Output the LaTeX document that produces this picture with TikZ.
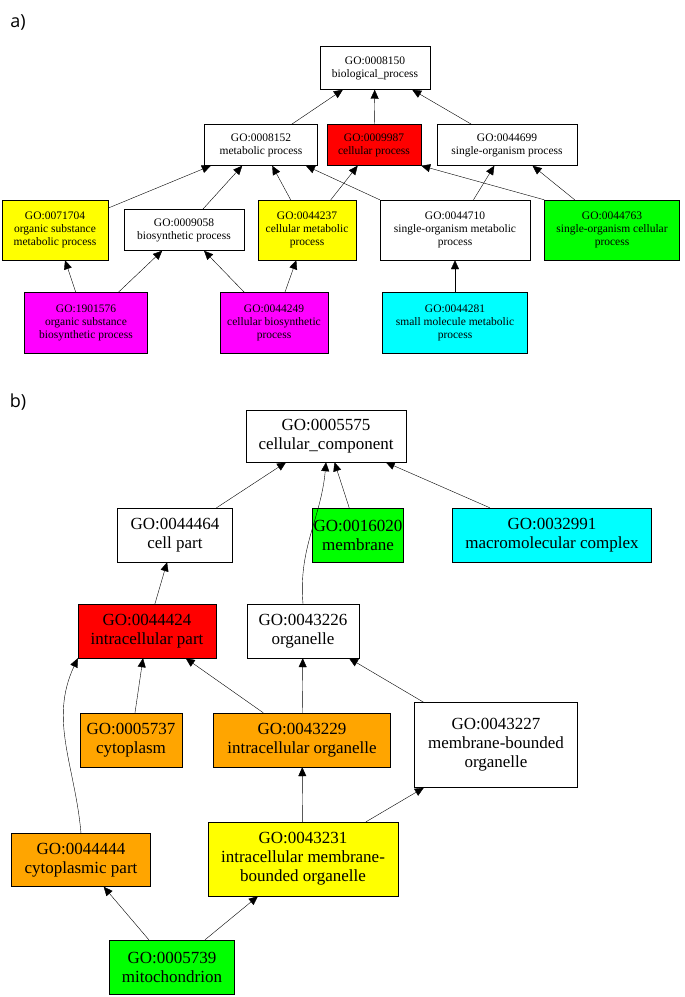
\documentclass[tikz,border=0pt]{standalone}
\usepackage{fontspec}
\setmainfont{Liberation Serif}
\newfontfamily\labfont{Open Sans}
\usetikzlibrary{positioning, arrows.meta, shapes}
\tikzset{
  term/.style={draw, align=center, inner sep=1pt},
  terma/.style={term, font=\fontsize{11.5}{13}\selectfont},
  termb/.style={term, font=\fontsize{17}{19}\selectfont},
  isa/.style={-{Triangle[length=9pt,width=8pt]}},
}
\definecolor{goyel}{RGB}{255,255,0}
\definecolor{gomag}{RGB}{255,0,255}
\definecolor{gocya}{RGB}{0,255,255}
\definecolor{gogrn}{RGB}{0,255,0}
\definecolor{gored}{RGB}{255,0,0}
\definecolor{goora}{RGB}{255,165,0}
\begin{document}
\begin{tikzpicture}[x=1pt, y=-1pt]
\useasboundingbox (0,0) rectangle (685,997);

%// part a
\node [font=\labfont\fontsize{18}{20}\selectfont] (laba) at (18,22) {a)};
\node [terma, minimum width=110pt, minimum height=43pt] (bp) at (375,68) {GO:0008150\\biological\_process};
\node [terma, minimum width=113pt, minimum height=41pt] (mp) at (261,145) {GO:0008152\\metabolic process};
\node [terma, fill=gored, minimum width=94pt, minimum height=41pt] (cp) at (374,145) {GO:0009987\\cellular process};
\node [terma, minimum width=140pt, minimum height=41pt] (sop) at (507,145) {GO:0044699\\single-organism process};
\node [terma, fill=goyel, minimum width=106pt, minimum height=60pt] (osm) at (55,230) {GO:0071704\\organic substance\\metabolic process};
\node [terma, minimum width=120pt, minimum height=41pt] (bsp) at (184,230) {GO:0009058\\biosynthetic process};
\node [terma, fill=goyel, minimum width=98pt, minimum height=60pt] (cmp) at (307,230) {GO:0044237\\cellular metabolic\\process};
\node [terma, minimum width=150pt, minimum height=60pt] (somp) at (455,230) {GO:0044710\\single-organism metabolic\\process};
\node [terma, fill=gogrn, minimum width=135pt, minimum height=60pt] (socp) at (612,230) {GO:0044763\\single-organism cellular\\process};
\node [terma, fill=gomag, minimum width=123pt, minimum height=61pt] (osb) at (86,323) {GO:1901576\\organic substance\\biosynthetic process};
\node [terma, fill=gomag, minimum width=108pt, minimum height=61pt] (cbp) at (274,323) {GO:0044249\\cellular biosynthetic\\process};
\node [terma, fill=gocya, minimum width=145pt, minimum height=61pt] (smm) at (455,323) {GO:0044281\\small molecule metabolic\\process};

\draw [isa] (mp) -- (bp);
\draw [isa] (cp) -- (bp);
\draw [isa] (sop) -- (bp);
\draw [isa] (osm) -- (mp);
\draw [isa] (bsp) -- (mp);
\draw [isa] (cmp) -- (mp);
\draw [isa] (cmp) -- (cp);
\draw [isa] (somp.north west) -- (mp);
\draw [isa] (somp) -- (sop);
\draw [isa] (socp) -- (sop);
\draw [isa] (socp.north west) -- (cp.south east);
\draw [isa] (osb) -- (osm);
\draw [isa] (osb) -- (bsp);
\draw [isa] (cbp) -- (bsp);
\draw [isa] (cbp) -- (cmp);
\draw [isa] (smm) -- (somp);

%// part b
\node [font=\labfont\fontsize{18}{20}\selectfont] (labb) at (18,402) {b)};
\node [termb, minimum width=160pt, minimum height=52pt] (cc) at (326,436) {GO:0005575\\cellular\_component};
\node [termb, minimum width=115pt, minimum height=54pt] (cpart) at (175,535) {GO:0044464\\cell part};
\node [termb, fill=gogrn, minimum width=84pt, minimum height=54pt] (mem) at (358,535) {GO:0016020\\membrane};
\node [termb, fill=gocya, minimum width=199pt, minimum height=54pt] (mmc) at (552,535) {GO:0032991\\macromolecular complex};
\node [termb, fill=gored, minimum width=138pt, minimum height=54pt] (icp) at (147,631) {GO:0044424\\intracellular part};
\node [termb, minimum width=112pt, minimum height=54pt] (org) at (303,631) {GO:0043226\\organelle};
\node [termb, fill=goora, minimum width=102pt, minimum height=54pt] (cyt) at (131,740) {GO:0005737\\cytoplasm};
\node [termb, fill=goora, minimum width=177pt, minimum height=54pt] (ico) at (302,740) {GO:0043229\\intracellular organelle};
\node [termb, minimum width=163pt, minimum height=85pt] (mbo) at (496,745) {GO:0043227\\membrane-bounded\\organelle};
\node [termb, fill=goora, minimum width=139pt, minimum height=53pt] (cyp) at (81,860) {GO:0044444\\cytoplasmic part};
\node [termb, fill=goyel, minimum width=190pt, minimum height=74pt] (imbo) at (303,859) {GO:0043231\\intracellular membrane-\\bounded organelle};
\node [termb, fill=gogrn, minimum width=125pt, minimum height=54pt] (mito) at (172,967) {GO:0005739\\mitochondrion};

\draw [isa] (cpart) -- (cc);
\draw [isa] (mem) -- (cc);
\draw [isa] (mmc) -- (cc);
\draw [isa] (org.north) to[out=95, in=-95] (cc.south);
\draw [isa] (icp) -- (cpart);
\draw [isa] (cyt) -- (icp);
\draw [isa] (ico) -- (icp);
\draw [isa] (cyp.north) to[out=95, in=-115] (icp.south west);
\draw [isa] (ico) -- (org);
\draw [isa] (mbo) -- (org);
\draw [isa] (imbo) -- (ico);
\draw [isa] (imbo) -- (mbo);
\draw [isa] (mito) -- (cyp);
\draw [isa] (mito) -- (imbo);
\end{tikzpicture}
\end{document}
